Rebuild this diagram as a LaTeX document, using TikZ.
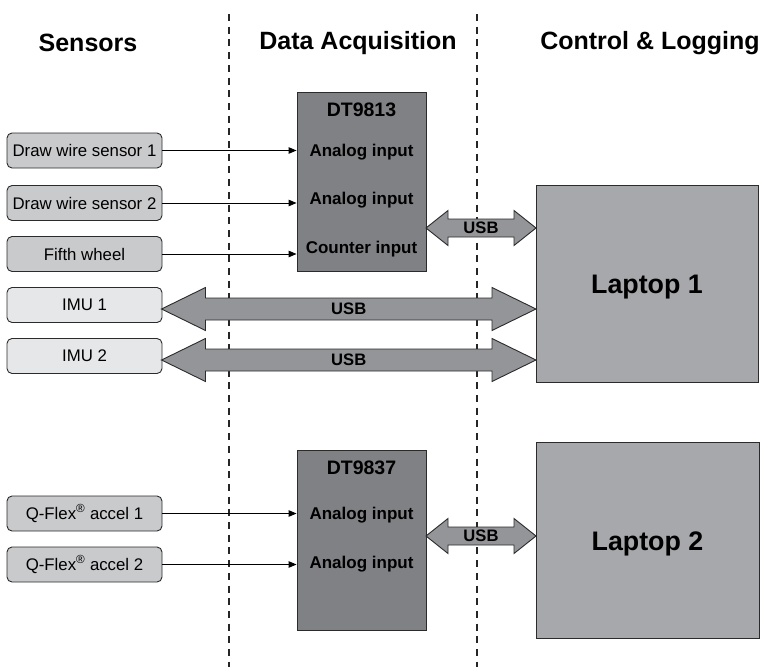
\documentclass[tikz,border=0pt]{standalone}
\usepackage{fontspec}
\setmainfont{Liberation Sans}
\usetikzlibrary{arrows.meta,calc}
\definecolor{sensfill}{HTML}{C9CACC}
\definecolor{imufill}{HTML}{E6E7E8}
\definecolor{daqfill}{HTML}{808184}
\definecolor{lapfill}{HTML}{A7A8AB}
\definecolor{usbfill}{HTML}{949598}
\definecolor{edge}{HTML}{2B2B2B}
\newcommand\usbarr[5]{%
  \draw[usbshape] let \p1=(#1), \p2=(#2) in
    (\x1,\y1) -- (\x1+#3pt,\y1+#4pt) -- (\x1+#3pt,\y1+#5pt) -- (\x2-#3pt,\y1+#5pt)
    -- (\x2-#3pt,\y1+#4pt) -- (\x2,\y1) -- (\x2-#3pt,\y1-#4pt) -- (\x2-#3pt,\y1-#5pt)
    -- (\x1+#3pt,\y1-#5pt) -- (\x1+#3pt,\y1-#4pt) -- cycle;}
\begin{document}
\begin{tikzpicture}[x=1pt,y=-1pt,
  hdr/.style={font=\fontsize{25}{28}\selectfont\bfseries, inner sep=0pt},
  divider/.style={draw=black!85, line width=1.2pt, dash pattern=on 7pt off 5.7pt},
  sensor/.style={draw=edge, line width=0.9pt, rounded corners=5pt, fill=sensfill,
    minimum width=155pt, minimum height=35pt, inner sep=0pt,
    font=\fontsize{16.8}{19}\selectfont},
  imu/.style={sensor, fill=imufill},
  daq/.style={draw=edge, line width=0.9pt, fill=daqfill, minimum width=129pt,
    minimum height=179pt, inner sep=0pt},
  daqtitle/.style={font=\fontsize{19.5}{22}\selectfont\bfseries, inner sep=0pt},
  daqtxt/.style={font=\fontsize{17}{19}\selectfont\bfseries, inner sep=0pt},
  laptop/.style={draw=edge, line width=0.9pt, fill=lapfill, minimum width=222pt,
    minimum height=197pt, inner sep=0pt},
  laptxt/.style={font=\fontsize{26.8}{30}\selectfont\bfseries, inner sep=0pt},
  sig/.style={draw=black, line width=0.9pt, -{Triangle[length=8pt,width=6.5pt]}},
  usbshape/.style={draw=edge, line width=0.9pt, fill=usbfill, line join=miter},
  usbtxt/.style={font=\fontsize{16.6}{18}\selectfont\bfseries, inner sep=0pt}]
\useasboundingbox (0,0) rectangle (764,667);

% column headers
\node[hdr] (hsens) at (88,43) {Sensors};
\node[hdr] (hdaq) at (358,43) {Data Acquisition};
\node[hdr] (hctl) at (650,43) {Control \& Logging};

% dividers
\coordinate (d1t) at (229,14); \coordinate (d1b) at (229,667);
\coordinate (d2t) at (477,14); \coordinate (d2b) at (477,667);
\draw[divider] (d1t) -- (d1b);
\draw[divider] (d2t) -- (d2b);

% sensors
\node[sensor] (s1) at (84.5,150.5) {Draw wire sensor 1};
\node[sensor] (s2) at (84.5,203) {Draw wire sensor 2};
\node[sensor] (s3) at (84.5,254) {Fifth wheel};
\node[imu] (imu1) at (84.5,305) {IMU 1};
\node[imu] (imu2) at (84.5,356) {IMU 2};
\node[sensor] (q1) at (84.5,513.5) {Q-Flex\textsuperscript{\textregistered} accel 1};
\node[sensor] (q2) at (84.5,564.5) {Q-Flex\textsuperscript{\textregistered} accel 2};

% DAQ boxes
\node[daq] (dt1) at (361.5,181.5) {};
\node[daqtitle] (dt1t) at (361.5,110) {DT9813};
\node[daqtxt] (dt1a) at (361.5,152) {Analog input};
\node[daqtxt] (dt1b) at (361.5,200) {Analog input};
\node[daqtxt] (dt1c) at (361.5,249) {Counter input};

\node[daq, minimum height=180pt] (dt2) at (361.5,540) {};
\node[daqtitle] (dt2t) at (361.5,468) {DT9837};
\node[daqtxt] (dt2a) at (361.5,515) {Analog input};
\node[daqtxt] (dt2b) at (361.5,564) {Analog input};

% laptops
\node[laptop] (lap1) at (647,283.5) {};
\node[laptxt] (lap1t) at (647,287) {Laptop 1};
\node[laptop, minimum width=223pt, minimum height=196pt] (lap2) at (647.5,540) {};
\node[laptxt] (lap2t) at (647.5,544) {Laptop 2};

% signal lines
\draw[sig] (s1.east) -- (s1.east -| dt1.west);
\draw[sig] (s2.east) -- (s2.east -| dt1.west);
\draw[sig] (s3.east) -- (s3.east -| dt1.west);
\draw[sig] (q1.east) -- (q1.east -| dt2.west);
\draw[sig] (q2.east) -- (q2.east -| dt2.west);

% USB links
\coordinate (u1a) at (426,228); \coordinate (u1b) at (536,228);
\usbarr{u1a}{u1b}{22}{17.5}{9}
\node[usbtxt] (u1t) at ($(u1a)!0.5!(u1b)$) {USB};

\coordinate (u2a) at (161.5,309); \coordinate (u2b) at (536,309);
\usbarr{u2a}{u2b}{44}{21.5}{11}
\node[usbtxt] (u2t) at ($(u2a)!0.5!(u2b)$) {USB};

\coordinate (u3a) at (161.5,360); \coordinate (u3b) at (536,360);
\usbarr{u3a}{u3b}{44}{21.5}{11}
\node[usbtxt] (u3t) at ($(u3a)!0.5!(u3b)$) {USB};

\coordinate (u4a) at (426,536); \coordinate (u4b) at (536,536);
\usbarr{u4a}{u4b}{22}{17.5}{9}
\node[usbtxt] (u4t) at ($(u4a)!0.5!(u4b)$) {USB};
\end{tikzpicture}
\end{document}
